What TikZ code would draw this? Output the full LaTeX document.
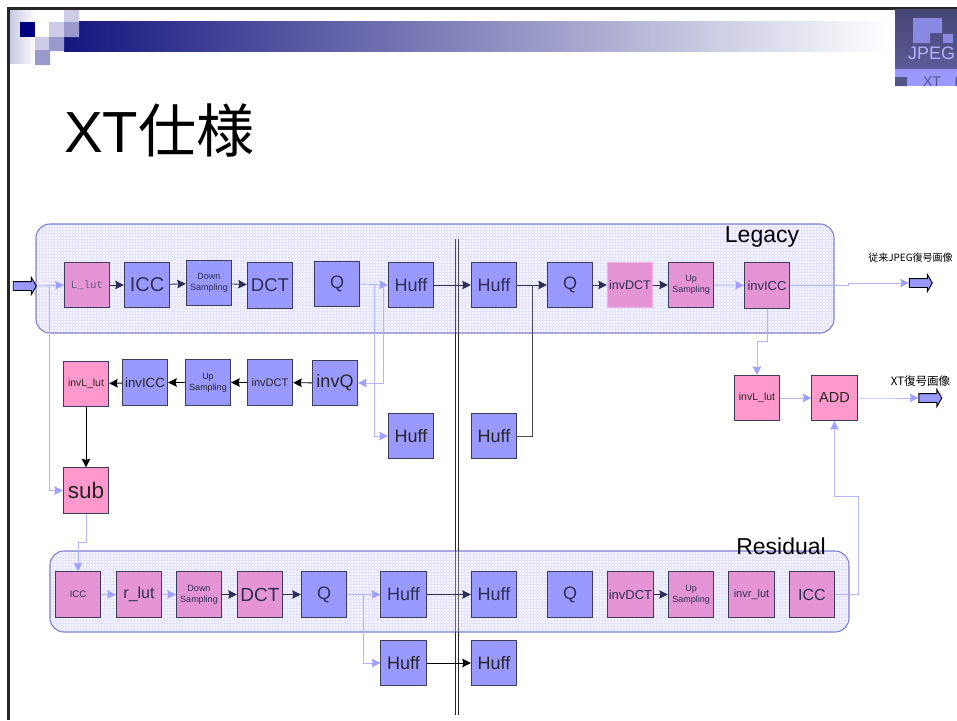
\documentclass[tikz,border=0pt]{standalone}
\usepackage{fontspec}
\setmainfont{Liberation Sans}
\setmonofont{Liberation Mono}
\newfontfamily\cjk{Noto Sans CJK JP}
\usetikzlibrary{arrows.meta,shapes.arrows}
\newcommand{\fs}[1]{\fontsize{#1}{#1}\selectfont}
\definecolor{bluebox}{HTML}{9999FF}
\definecolor{pinkbox}{HTML}{FF99CC}
\definecolor{pinkpanel}{HTML}{E594D6}
\definecolor{edgebox}{HTML}{3C3C5C}
\definecolor{inktext}{HTML}{2E2E55}
\definecolor{litewire}{HTML}{B4B4FF}
\definecolor{litehead}{HTML}{A0A0FF}
\definecolor{panelfill}{HTML}{F5F5FF}
\definecolor{panelgrid}{HTML}{E3E3FF}
\definecolor{paneledge}{HTML}{8080D0}
\definecolor{bandleft}{HTML}{15157F}
\definecolor{bandmid}{HTML}{9C9CB6}
\definecolor{fadeleft}{HTML}{C8C8E4}
\definecolor{squarelite}{HTML}{CCCCE6}
\definecolor{squaremid}{HTML}{9999CC}
\tikzset{
	boxb/.style={draw=edgebox,line width=0.9pt,fill=bluebox,text=inktext,minimum size=45.5pt,inner sep=0pt,align=center},
	boxp/.style={boxb,fill=pinkpanel},
	boxk/.style={boxb,fill=pinkbox,text=black!85},
	boxo/.style={boxb,text=black!85},
	wiredark/.style={-{Stealth[length=8.5pt,width=8.5pt,inset=1pt]},line width=0.9pt,draw=inktext},
	wireblack/.style={-{Stealth[length=8.5pt,width=8.5pt,inset=1pt]},line width=0.9pt,draw=black},
	wirelite/.style={-{Stealth[length=8.5pt,width=8.5pt,inset=1pt,color=litehead]},line width=0.9pt,draw=litewire},
	blockarrow/.style={single arrow,draw=black,line width=0.9pt,fill=bluebox,inner sep=4pt,
		minimum height=23pt,single arrow head extend=4pt,single arrow tip angle=120},
	panel/.style={rounded corners=14pt},
}
\begin{document}
\begin{tikzpicture}[x=1pt,y=-1pt]
	\useasboundingbox (0,0) rectangle (957,720);
	% slide frame and header
	\shade[left color=fadeleft,right color=white] (9.5,10) rectangle (36,63);
	\shade[left color=bandleft,middle color=bandmid,right color=white] (64,21) rectangle (892,51);
	\fill[white] (35,22) rectangle (49,37) (64,10) rectangle (79,21);
	\fill[blue!50!black] (20,22) rectangle (35,37);
	\fill[squarelite] (49,22) rectangle (64,37) (64,10) rectangle (79,22) (35,37) rectangle (49,50);
	\fill[squaremid] (64,22) rectangle (79,37) (49,37) rectangle (64,51) (35,50) rectangle (50,65);
	\fill[black!85] (7,7) rectangle (957,9.5);
	\fill[black!85] (7,7) rectangle (9.5,720);
	% logo
	\shade[top color=black!55!bluebox,bottom color=black!40!bluebox] (895,9.5) rectangle (957,69);
	\fill[bluebox] (895,69) rectangle (957,86);
	\fill[black!45!bluebox] (895,77) rectangle (907,86) (955.5,77) rectangle (957,86);
	\fill[black!10!bluebox] (913,18) -- (942,18) -- (942,33) -- (930,33) -- (930,43) -- (913,43) -- cycle;
	\fill[black!10!bluebox] (943,34) rectangle (953,43);
	\node[text=white!25!bluebox,font=\fs{18}] (logotext) at (931.5,53) {JPEG};
	\node[text=black!45!bluebox,font=\fs{14}] (logoxt) at (932,82) {XT};
	% title
	\node[anchor=west,inner sep=0pt,font=\fs{58}] (title) at (64,130) {XT{\cjk\fs{58}仕様}};
	% panels and divider
	\foreach \xa/\ya/\xb/\yb in {36/224/834/333,50/551/849/632}{
		\begin{scope}
			\clip[panel] (\xa,\ya) rectangle (\xb,\yb);
			\fill[panelfill] (\xa,\ya) rectangle (\xb,\yb);
			\foreach \i in {0,3,...,804}{\draw[panelgrid,line width=0.9pt] (\xa+\i,\ya) -- (\xa+\i,\yb);}
			\foreach \i in {0,3,...,108}{\draw[panelgrid,line width=0.9pt] (\xa,\ya+\i) -- (\xb,\ya+\i);}
		\end{scope}
		\draw[panel,paneledge,line width=1.1pt] (\xa,\ya) rectangle (\xb,\yb);
	}
	\draw[line width=1.3pt,black!70] (455.3,239) -- (455.3,333) (458.2,239) -- (458.2,333);
	\draw[line width=1.3pt,black!60] (455.3,551) -- (455.3,632) (458.2,551) -- (458.2,632);
	\draw[line width=1.3pt,black!85] (455.3,333) -- (455.3,551) (458.2,333) -- (458.2,551);
	\draw[line width=1.3pt,black!85] (455.3,632) -- (455.3,715) (458.2,632) -- (458.2,715);
	\node[font=\fs{23}] (legacy) at (762,237) {Legacy};
	\node[font=\fs{23}] (residual) at (781,546) {Residual};
	% legacy row
	\node[boxp,text=inktext!75,font=\ttfamily\fs{10.7}] (llut) at (87,285) {L\_lut};
	\node[boxb,font=\fs{20}] (licc) at (147,285) {ICC};
	\node[boxb,font=\fs{9}] (ldown) at (209,283) {Down\\[2pt]Sampling};
	\node[boxb,font=\fs{18.5}] (ldct) at (270,285.5) {DCT};
	\node[boxb,font=\fs{18}] (lq) at (337,284) {Q};
	\node[boxb,font=\fs{18}] (lhuff) at (411,285) {Huff};
	\node[boxb,font=\fs{18}] (lhuffb) at (494,285) {Huff};
	\node[boxb,font=\fs{18}] (lqb) at (570,285) {Q};
	\node[boxp,draw=pinkpanel!70!white,font=\fs{12.5}] (linvdct) at (630,285) {invDCT};
	\node[boxp,font=\fs{9}] (lup) at (691,285) {Up\\[2pt]Sampling};
	\node[boxp,font=\fs{13}] (linvicc) at (767,285.5) {invICC};
	% local decoder row
	\node[boxk,font=\fs{10.4}] (dlut) at (86,384) {invL\_lut};
	\node[boxo,font=\fs{13.3}] (dicc) at (145,382.5) {invICC};
	\node[boxo,font=\fs{9}] (dup) at (208,382.5) {Up\\[2pt]Sampling};
	\node[boxo,font=\fs{11}] (ddct) at (270,382.5) {invDCT};
	\node[boxo,font=\fs{18}] (dq) at (335,383) {invQ};
	\node[boxo,font=\fs{18}] (ahuff) at (411,436) {Huff};
	\node[boxo,font=\fs{18}] (ahuffb) at (494,436) {Huff};
	\node[boxk,font=\fs{22.5}] (sub) at (86,490.5) {sub};
	\node[boxk,font=\fs{10.5}] (olut) at (757,398) {invL\_lut};
	\node[boxk,font=\fs{14.5}] (add) at (834.5,398) {ADD};
	% residual row
	\node[boxp,font=\fs{9.5}] (ricc) at (78,594.5) {ICC};
	\node[boxp,font=\fs{16}] (rlut) at (139,594.5) {r\_lut};
	\node[boxp,font=\fs{9}] (rdown) at (199,594.5) {Down\\[2pt]Sampling};
	\node[boxp,font=\fs{19}] (rdct) at (260,594.5) {DCT};
	\node[boxb,font=\fs{18}] (rq) at (324,594.5) {Q};
	\node[boxb,font=\fs{18}] (rhuff) at (403.5,594.5) {Huff};
	\node[boxb,font=\fs{18}] (rhuffb) at (494,594.5) {Huff};
	\node[boxb,font=\fs{18}] (rqb) at (570,594.5) {Q};
	\node[boxp,font=\fs{13}] (rinvdct) at (630.5,594.5) {invDCT};
	\node[boxp,font=\fs{9}] (rup) at (691,594.5) {Up\\[2pt]Sampling};
	\node[boxp,font=\fs{11}] (rinvlut) at (751.5,594.5) {invr\_lut};
	\node[boxp,font=\fs{16}] (riccb) at (812,594.5) {ICC};
	\node[boxo,font=\fs{18}] (shuff) at (403.5,663) {Huff};
	\node[boxo,font=\fs{18}] (shuffb) at (494,663) {Huff};
	% block arrows and labels
	\node[blockarrow] (inarrow) at (23.5,286) {};
	\node[blockarrow] (outa) at (919.5,283) {};
	\node[blockarrow] (outb) at (929,398) {};
	\node[font=\cjk\fs{10}] (outatext) at (910.5,258) {従来JPEG復号画像};
	\node[font=\cjk\fs{11.5}] (outbtext) at (920.5,381) {XT復号画像};
	% connectors
	\foreach \a/\b in {llut/licc,licc/ldown,ldown/ldct,lhuff/lhuffb,lhuffb/lqb,lqb/linvdct,linvdct/lup,rdown/rdct,rdct/rq,rhuff/rhuffb,rinvdct/rup}{
		\draw[wiredark] (\a) -- (\b);
	}
	\foreach \a/\b in {dq/ddct,ddct/dup,dup/dicc,dicc/dlut,dlut/sub,shuff/shuffb}{
		\draw[wireblack] (\a) -- (\b);
	}
	\foreach \a/\b in {lup/linvicc,olut/add,ricc/rlut,rlut/rdown}{
		\draw[wirelite] (\a) -- (\b);
	}
	\draw[wirelite] (inarrow.tip) -- (llut.west);
	\draw[wirelite] (lq.east) -- (lhuff.west);
	\draw[wirelite] (rq.east) -- (rhuff.west);
	\coordinate (ina) at (49,285);
	\coordinate (qbra) at (374,284.5);
	\coordinate (qbrb) at (383,284.5);
	\coordinate (rbr) at (363.5,594.5);
	\coordinate (lbr) at (532,285);
	\draw[wirelite] (ina) |- (sub.west);
	\draw[wirelite] (qbra) |- (ahuff.west);
	\draw[wirelite] (qbrb) |- (dq.east);
	\draw[wirelite] (rbr) |- (shuff.west);
	\draw[wiredark,-,black!70] (ahuffb.east) -| (lbr);
	\draw[wirelite] (sub.south) -- ++(0,28.5) -| (ricc.north);
	\draw[wirelite] (linvicc.south) -- ++(0,32.5) -| (olut.north);
	\draw[wirelite] (linvicc.east) -- (848,285.5) -- (848,283) -- (outa.tail);
	\draw[wirelite] (add.east) -- (880,398) -- (outb.tail);
	\draw[wirelite] (riccb.east) -- (858.5,594.5) -- (858.5,496) -| (add.south);
\end{tikzpicture}
\end{document}
